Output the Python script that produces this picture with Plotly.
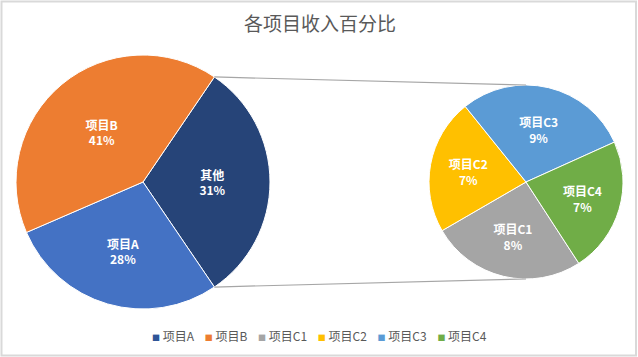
import math
import plotly.graph_objects as go

# ---- data ----
title_text = "各项目收入百分比"
main_labels = ["项目A", "项目B"]
main_values = [28, 41]
other_label = "其他"
sub_labels = ["项目C1", "项目C2", "项目C3", "项目C4"]
sub_values = [8, 7, 9, 7]

# ---- styles ----
W, H = 638, 357
FONT = "Noto Sans CJK SC"
main_colors = {"项目A": "#4472C4", "项目B": "#ED7D31", "其他": "#264478"}
sub_colors = ["#A5A5A5", "#FFC000", "#5B9BD5", "#70AD47"]
legend_colors = ["#2F5597", "#ED7D31", "#A5A5A5", "#FFC000", "#5B9BD5", "#70AD47"]

other_value = sum(sub_values)
total = sum(main_values) + other_value

# pie geometry (pixels)
c1x, c1y, r1 = 143, 182, 127
c2x, c2y, r2 = 526, 182, 97

def dom(cx, cy, r):
    return dict(x=[(cx - r) / W, (cx + r) / W], y=[(H - cy - r) / H, (H - cy + r) / H])

p_labels = [other_label] + main_labels
p_values = [other_value] + main_values
other_span = 360.0 * other_value / total
rot1 = 90 - other_span / 2

fig = go.Figure()
fig.add_trace(go.Pie(
    labels=p_labels, values=p_values, sort=False, direction="clockwise",
    rotation=rot1, domain=dom(c1x, c1y, r1),
    marker=dict(colors=[main_colors[l] for l in p_labels], line=dict(color="white", width=1)),
    texttemplate="%{label}<br>%{value}%", textposition="inside",
    insidetextorientation="horizontal",
    textfont=dict(color="white", size=12, family=FONT, weight="bold"),
    showlegend=False, hoverinfo="label+value",
))
fig.add_trace(go.Pie(
    labels=sub_labels, values=sub_values, sort=False, direction="clockwise",
    rotation=147, domain=dom(c2x, c2y, r2),
    marker=dict(colors=sub_colors, line=dict(color="white", width=1)),
    texttemplate="%{label}<br>%{value}%", textposition="inside",
    insidetextorientation="horizontal",
    textfont=dict(color="white", size=12, family=FONT, weight="bold"),
    showlegend=False, hoverinfo="label+value",
))

# connector lines from the "other" slice edges to the secondary pie
def px2paper(x, y):
    return x / W, (H - y) / H

shapes = []
for ang, ty in [(rot1, c2y - r2), (rot1 + other_span, c2y + r2)]:
    a = math.radians(ang)
    sx, sy = c1x + r1 * math.sin(a), c1y - r1 * math.cos(a)
    x0, y0 = px2paper(sx, sy)
    x1, y1 = px2paper(c2x, ty)
    shapes.append(dict(type="line", xref="paper", yref="paper", x0=x0, y0=y0, x1=x1, y1=y1,
                       line=dict(color="#A6A6A6", width=1.2)))
# outer frame
shapes.append(dict(type="rect", xref="paper", yref="paper", x0=1.5 / W, x1=(W - 2) / W,
                   y0=1.5 / H, y1=(H - 1.5) / H, line=dict(color="#D9D9D9", width=2)))

legend_labels = main_labels + sub_labels
legend_html = "&nbsp;&nbsp;&nbsp;&nbsp;".join(
    f'<span style="color:{c};font-size:8px">■</span>&nbsp;{l}' for l, c in zip(legend_labels, legend_colors)
)

fig.update_layout(
    width=W, height=H,
    margin=dict(l=0, r=0, t=0, b=0),
    paper_bgcolor="white", plot_bgcolor="white",
    title=dict(text=title_text, x=320 / W, xanchor="center", y=1 - 24 / H, yanchor="middle",
               font=dict(family=FONT, size=19, color="#595959")),
    font=dict(family=FONT),
    shapes=shapes,
    annotations=[dict(text=legend_html, xref="paper", yref="paper", x=320 / W, y=(H - 335) / H,
                      xanchor="center", yanchor="middle", showarrow=False,
                      font=dict(family=FONT, size=12, color="#595959"))],
)

fig.write_html("out.html", config={"displayModeBar": False},
               post_script="document.body.style.margin='0';document.body.style.overflow='hidden';")
